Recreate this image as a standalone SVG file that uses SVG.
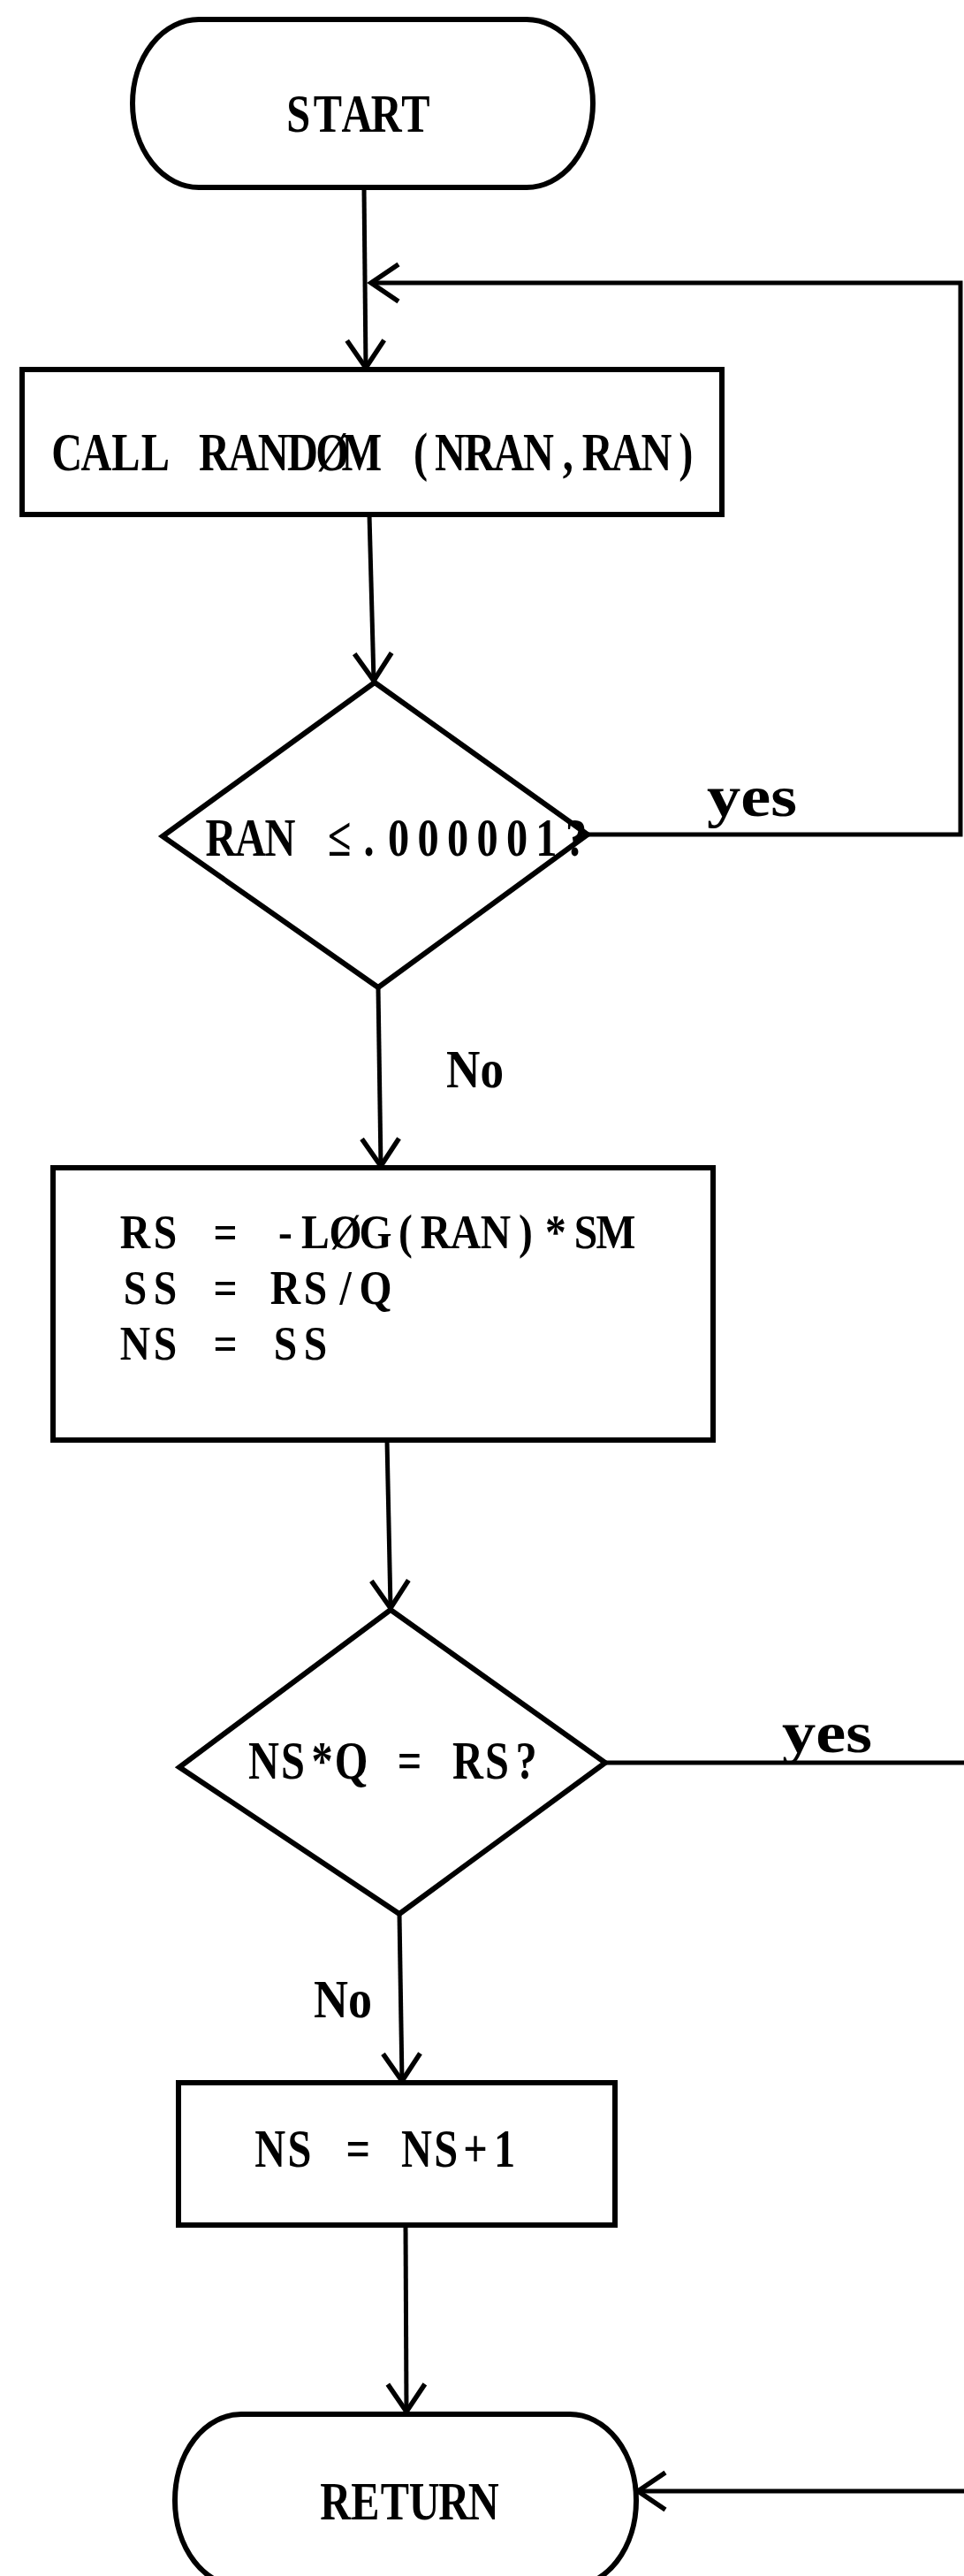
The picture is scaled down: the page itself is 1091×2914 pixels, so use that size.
<svg xmlns="http://www.w3.org/2000/svg" width="1091" height="2914" viewBox="0 0 1091 2914">
<style>
.bg{fill:#fff}
.shape{fill:none;stroke:#000;stroke-width:6;stroke-linejoin:miter}
.conn{fill:none;stroke:#000;stroke-width:5}
.t{font-family:"Liberation Serif","Times New Roman",serif;font-weight:bold;font-size:62px;fill:#000;text-anchor:middle}
.s{font-size:56px}
.lab{font-family:"Liberation Serif","Times New Roman",serif;font-weight:bold;fill:#000}
</style>
<defs>
<marker id="arr" markerUnits="userSpaceOnUse" markerWidth="40" markerHeight="50" viewBox="-36 -25 40 50" refX="0" refY="0" orient="auto" overflow="visible">
<path d="M-31,-21 L0,0 L-31,21" fill="none" stroke="#000" stroke-width="5.5"/>
</marker>
</defs>
<rect class="bg" x="0" y="0" width="1091" height="2914"/>
<g id="connectors">
<path class="conn" d="M412,212 L414,416" marker-end="url(#arr)"/>
<path class="conn" d="M665,944 L1087,944 L1087,320 L420,320" marker-end="url(#arr)"/>
<path class="conn" d="M418,582 L423,770" marker-end="url(#arr)"/>
<path class="conn" d="M428,1117 L431,1319" marker-end="url(#arr)"/>
<path class="conn" d="M438,1629 L442,1819" marker-end="url(#arr)"/>
<path class="conn" d="M685,1994 L1095,1994"/>
<path class="conn" d="M452,2165 L455,2354" marker-end="url(#arr)"/>
<path class="conn" d="M459,2517 L460,2728" marker-end="url(#arr)"/>
<path class="conn" d="M1095,2818 L722,2818" marker-end="url(#arr)"/>
<text class="lab" x="800" y="923" font-size="66" textLength="102" lengthAdjust="spacingAndGlyphs">yes</text>
<text class="lab" x="505" y="1230" font-size="62" textLength="65" lengthAdjust="spacingAndGlyphs">No</text>
<text class="lab" x="885" y="1982" font-size="66" textLength="102" lengthAdjust="spacingAndGlyphs">yes</text>
<text class="lab" x="355" y="2282" font-size="62" textLength="66" lengthAdjust="spacingAndGlyphs">No</text>
</g>
<g id="start">
<rect class="shape" x="150" y="22" width="521" height="190" rx="75" ry="95"/>
<text class="t" transform="scale(0.78,1)" x="432.8 475.4 517.9 560.5 603.1" y="149">START</text>
</g>
<g id="call-random">
<rect class="shape" x="25" y="418" width="792" height="164"/>
<text class="t" transform="scale(0.78,1)" x="97.1 139.8 182.6 225.4 268.1 310.9 353.7 396.5 439.2 482.0 524.7 567.5 610.3 653.1 695.8 738.6 781.4 824.1 866.9 909.7 952.4 995.2" y="532">CALL RANDØM (NRAN,RAN)</text>
</g>
<g id="test-ran">
<polygon class="shape" points="424,772 665,944 428,1117 184,946"/>
<text class="t" transform="scale(0.78,1)" x="320.5 363.5 406.4 449.4 492.3 535.3 578.2 621.2 664.1 707.1 750.0 792.9 835.9" y="968">RAN ≤.000001?</text>
</g>
<g id="compute">
<rect class="shape" x="60" y="1321" width="747" height="308"/>
<text class="t s" transform="scale(0.85,1)" x="180.0 220.0 260.0 300.0 340.0 380.0 420.0 460.0 500.0 540.0 580.0 620.0 660.0 700.0 740.0 780.0 820.0" y="1412">RS = -LØG(RAN)*SM</text>
<text class="t s" transform="scale(0.85,1)" x="180.0 220.0 260.0 300.0 340.0 380.0 420.0 460.0 500.0" y="1475">SS = RS/Q</text>
<text class="t s" transform="scale(0.85,1)" x="180.0 220.0 260.0 300.0 340.0 380.0 420.0" y="1538">NS = SS</text>
</g>
<g id="test-ns">
<polygon class="shape" points="442,1821 685,1994 452,2165 203,1999"/>
<text class="t" transform="scale(0.78,1)" x="382.7 425.0 467.3 509.6 551.9 594.2 636.5 678.8 721.2 763.5" y="2012">NS*Q = RS?</text>
</g>
<g id="increment">
<rect class="shape" x="202" y="2356" width="494" height="161"/>
<text class="t" transform="scale(0.78,1)" x="391.8 434.4 476.9 519.5 562.1 604.6 647.2 689.7 732.3" y="2451">NS = NS+1</text>
</g>
<g id="return">
<rect class="shape" x="198" y="2731" width="522" height="195" rx="75" ry="97"/>
<text class="t" transform="scale(0.78,1)" x="486.9 529.9 572.8 615.8 658.7 701.7" y="2850">RETURN</text>
</g>
</svg>
